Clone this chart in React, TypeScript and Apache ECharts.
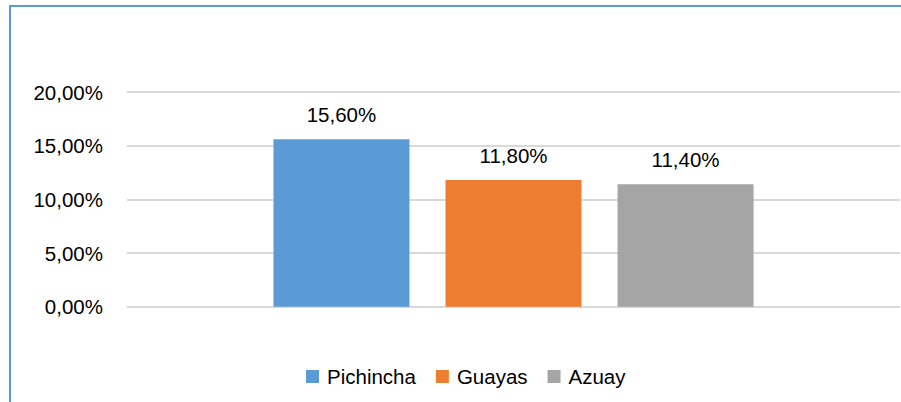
import React, { useEffect, useRef } from "react";
import * as echarts from "echarts";

const categories = [""];
const seriesNames = ["Pichincha", "Guayas", "Azuay"];
const seriesValues = [15.6, 11.8, 11.4];
const seriesColors = ["#5B9BD5", "#ED7D31", "#A5A5A5"];
const yMin = 0;
const yMax = 20;
const yInterval = 5;

const fmt = (v: number) => v.toFixed(2).replace(".", ",") + "%";
const FONT = "Liberation Sans";

export default function App() {
  const ref = useRef<HTMLDivElement>(null);
  useEffect(() => {
    if (!ref.current) return;
    const chart = echarts.init(ref.current, null, { renderer: "svg" });
    chart.setOption({
      animation: false,
      backgroundColor: "#ffffff",
      textStyle: { fontFamily: FONT },
      graphic: [
        {
          type: "line",
          shape: { x1: 9, y1: 6, x2: 901, y2: 6 },
          style: { stroke: "#5B9BD5", lineWidth: 2 },
          silent: true,
        },
        {
          type: "line",
          shape: { x1: 10, y1: 5, x2: 10, y2: 402 },
          style: { stroke: "#5B9BD5", lineWidth: 2 },
          silent: true,
        },
      ],
      grid: { left: 127, right: 1, top: 92, bottom: 95.3, containLabel: false },
      legend: {
        left: 301,
        top: 361,
        itemWidth: 13,
        itemHeight: 13,
        itemGap: 20,
        icon: "rect",
        data: seriesNames,
        textStyle: { fontFamily: FONT, fontSize: 20.5, color: "#000", padding: [0, 0, 0, 3] },
      },
      xAxis: {
        type: "category",
        data: categories,
        axisLine: { show: false },
        axisTick: { show: false },
        axisLabel: { show: false },
      },
      yAxis: {
        type: "value",
        min: yMin,
        max: yMax,
        interval: yInterval,
        axisLine: { show: false },
        axisTick: { show: false },
        axisLabel: {
          formatter: (v: number) => fmt(v),
          fontFamily: FONT,
          fontSize: 20.5,
          color: "#000",
          margin: 24,
        },
        splitLine: { lineStyle: { color: "#D9D9D9", width: 2 } },
      },
      series: seriesNames.map((name, i) => ({
        name,
        type: "bar",
        data: [seriesValues[i]],
        barWidth: 136,
        barGap: "26.5%",
        itemStyle: { color: seriesColors[i] },
        label: {
          show: true,
          position: "top",
          distance: 14,
          formatter: (p: any) => fmt(p.value),
          fontFamily: FONT,
          fontSize: 20.5,
          color: "#000",
        },
      })),
    });
    return () => chart.dispose();
  }, []);
  return (
    <div
      ref={ref}
      style={{ position: "absolute", left: 0, top: 0, width: 901, height: 402 }}
    />
  );
}
